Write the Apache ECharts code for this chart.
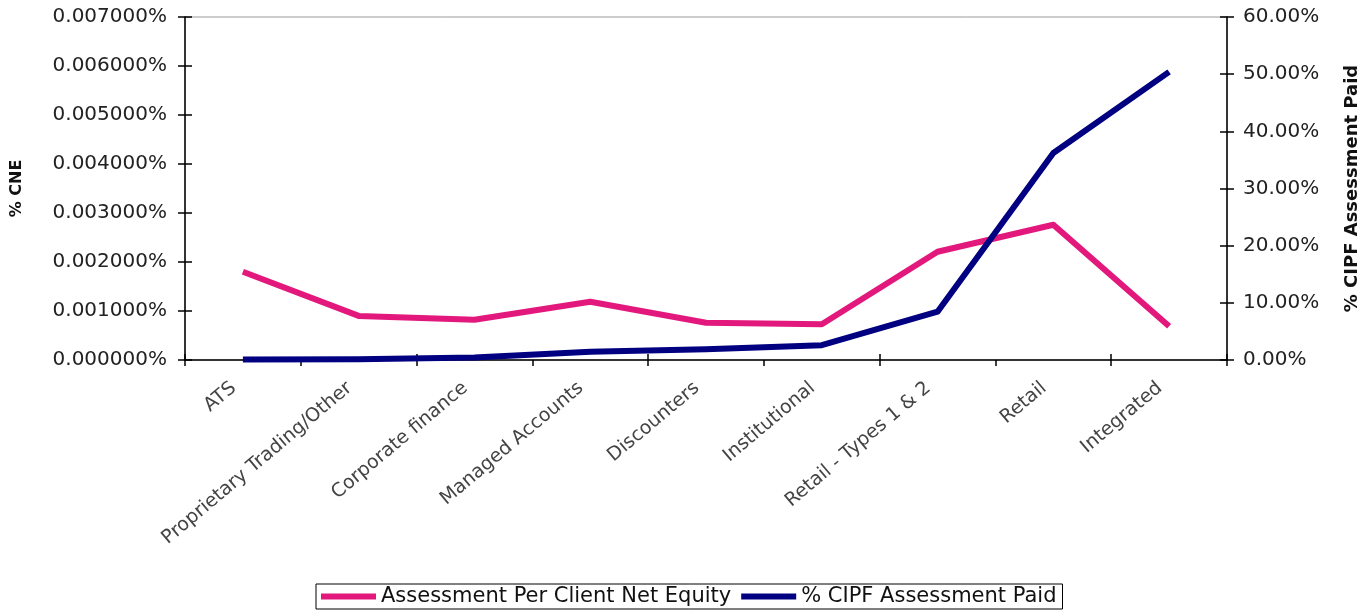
<!DOCTYPE html>
<html>
<head>
<meta charset="utf-8">
<title>Assessment Per Client Net Equity vs % CIPF Assessment Paid</title>
<script src="https://cdn.jsdelivr.net/npm/echarts@6/dist/echarts.min.js"></script>
<style>
  html, body { margin: 0; padding: 0; background: #fff; }
  #chart { width: 1362px; height: 613px; }
</style>
</head>
<body>
<div id="chart"></div>
<script>
// Firm categories along the horizontal axis
const categories = [
  'ATS',
  'Proprietary Trading/Other',
  'Corporate finance',
  'Managed Accounts',
  'Discounters',
  'Institutional',
  'Retail - Types 1 & 2',
  'Retail',
  'Integrated'
];

// Assessment per client net equity, in percent of CNE (left axis)
const assessmentPerCNE = [0.00180, 0.00090, 0.00082, 0.00119, 0.00076, 0.00073, 0.00221, 0.00276, 0.00069];

// Share of total CIPF assessment paid, in percent (right axis)
const cipfAssessmentPaid = [0.1, 0.12, 0.45, 1.45, 1.9, 2.6, 8.45, 36.2, 50.4];

// Axis ranges
const leftMax = 0.007, leftStep = 0.001;
const rightMax = 60, rightStep = 10;

const FONT = '"DejaVu Sans", "Liberation Sans", Arial, sans-serif';
const PINK = '#e3187d';
const NAVY = '#000080';

const chart = echarts.init(document.getElementById('chart'), null, { renderer: 'canvas' });

const hidden = { show: false };

chart.setOption({
  backgroundColor: '#ffffff',
  animation: false,
  grid: {
    left: 185, right: 135, top: 17, bottom: 253,
    outerBoundsMode: 'none', containLabel: false,
    show: true, borderColor: '#9a9a9a', borderWidth: 1, backgroundColor: 'transparent'
  },
  legend: {
    left: 316, top: 584,
    orient: 'horizontal',
    itemWidth: 55, itemHeight: 6, itemGap: 10,
    padding: [2, 6, 2, 5],
    borderColor: '#000', borderWidth: 1,
    icon: 'rect',
    textStyle: { fontFamily: FONT, fontSize: 21, color: '#111', padding: [0, 0, 0, 0] },
    data: ['Assessment Per Client Net Equity', '% CIPF Assessment Paid']
  },
  xAxis: [
    {
      type: 'category', position: 'bottom', data: categories, boundaryGap: true,
      axisLine: { show: true, lineStyle: { color: '#000', width: 1.5 } },
      axisTick: { show: true, inside: false, length: 6, lineStyle: { color: '#000', width: 1.5 } },
      axisLabel: {
        interval: 0, rotate: 40, margin: 18,
        fontFamily: FONT, fontSize: 19, color: '#444',
        padding: [0, 12, 0, 0]
      },
      splitLine: hidden
    },
    {
      type: 'category', position: 'bottom', data: categories, boundaryGap: true,
      axisLine: hidden,
      axisTick: { show: true, inside: true, length: 6, lineStyle: { color: '#000', width: 1.5 } },
      axisLabel: hidden, splitLine: hidden
    }
  ],
  yAxis: [
    {
      type: 'value', position: 'left', min: 0, max: leftMax, interval: leftStep,
      name: '% CNE', nameLocation: 'middle', nameGap: 160, nameRotate: 90,
      nameTextStyle: { fontFamily: FONT, fontSize: 16, fontWeight: 'bold', color: '#111' },
      axisLine: { show: true, lineStyle: { color: '#000', width: 1.5 } },
      axisTick: { show: true, inside: false, length: 7, lineStyle: { color: '#000', width: 1.5 } },
      axisLabel: {
        margin: 18, fontFamily: FONT, fontSize: 20, color: '#222',
        formatter: v => v.toFixed(6) + '%'
      },
      splitLine: hidden
    },
    {
      type: 'value', position: 'right', min: 0, max: rightMax, interval: rightStep,
      name: '% CIPF Assessment Paid', nameLocation: 'middle', nameGap: 116, nameRotate: 90,
      nameTextStyle: { fontFamily: FONT, fontSize: 18, fontWeight: 'bold', color: '#111' },
      axisLine: { show: true, lineStyle: { color: '#000', width: 1.5 } },
      axisTick: { show: true, inside: false, length: 7, lineStyle: { color: '#000', width: 1.5 } },
      axisLabel: {
        margin: 16, fontFamily: FONT, fontSize: 20, color: '#222',
        formatter: v => v.toFixed(2) + '%'
      },
      splitLine: hidden
    },
    {
      type: 'value', position: 'left', min: 0, max: leftMax, interval: leftStep,
      axisLine: hidden,
      axisTick: { show: true, inside: true, length: 7, lineStyle: { color: '#000', width: 1.5 } },
      axisLabel: hidden, splitLine: hidden
    },
    {
      type: 'value', position: 'right', min: 0, max: rightMax, interval: rightStep,
      axisLine: hidden,
      axisTick: { show: true, inside: true, length: 7, lineStyle: { color: '#000', width: 1.5 } },
      axisLabel: hidden, splitLine: hidden
    }
  ],
  series: [
    {
      name: 'Assessment Per Client Net Equity',
      type: 'line', xAxisIndex: 0, yAxisIndex: 0,
      data: assessmentPerCNE,
      showSymbol: false, symbol: 'none',
      itemStyle: { color: PINK },
      lineStyle: { color: PINK, width: 6, join: 'round' },
      z: 3
    },
    {
      name: '% CIPF Assessment Paid',
      type: 'line', xAxisIndex: 0, yAxisIndex: 1,
      data: cipfAssessmentPaid,
      showSymbol: false, symbol: 'none',
      itemStyle: { color: NAVY },
      lineStyle: { color: NAVY, width: 6, join: 'round' },
      z: 4
    }
  ]
});
</script>
</body>
</html>
